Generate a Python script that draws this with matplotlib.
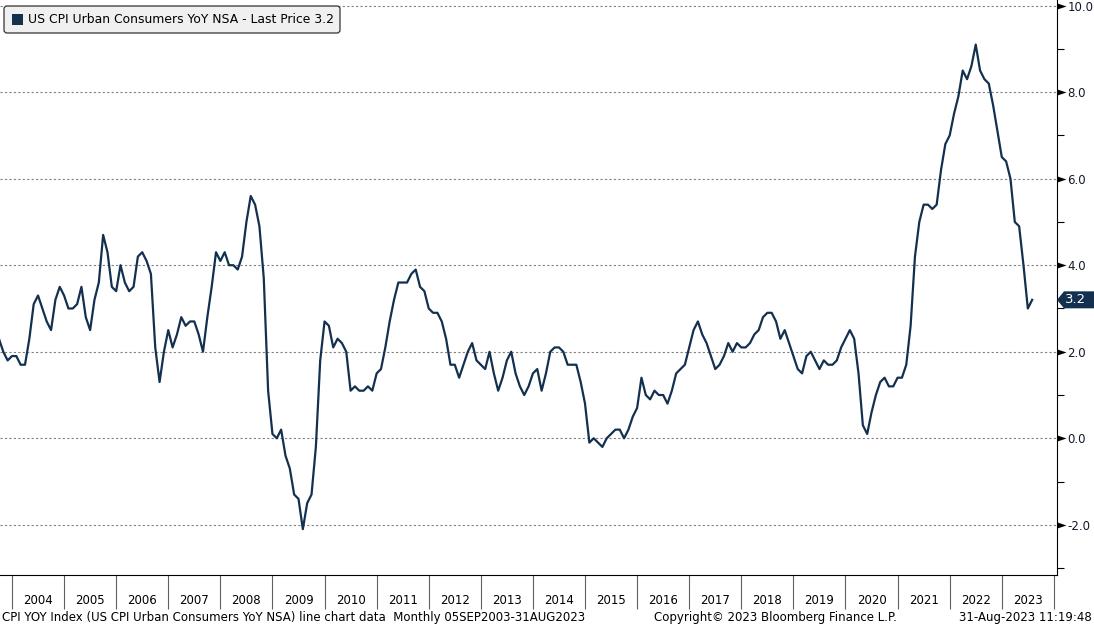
import numpy as np
import matplotlib.pyplot as plt
from matplotlib.patches import Polygon, FancyBboxPatch, Rectangle
from matplotlib.transforms import blended_transform_factory

# US CPI Urban Consumers YoY NSA, monthly, Sep 2003 - Jul 2023
start_year, start_month = 2003, 9
cpi_yoy = [
    2.3, 2.0, 1.8, 1.9,                                              # 2003 Sep-Dec
    1.9, 1.7, 1.7, 2.3, 3.1, 3.3, 3.0, 2.7, 2.5, 3.2, 3.5, 3.3,      # 2004
    3.0, 3.0, 3.1, 3.5, 2.8, 2.5, 3.2, 3.6, 4.7, 4.3, 3.5, 3.4,      # 2005
    4.0, 3.6, 3.4, 3.5, 4.2, 4.3, 4.1, 3.8, 2.1, 1.3, 2.0, 2.5,      # 2006
    2.1, 2.4, 2.8, 2.6, 2.7, 2.7, 2.4, 2.0, 2.8, 3.5, 4.3, 4.1,      # 2007
    4.3, 4.0, 4.0, 3.9, 4.2, 5.0, 5.6, 5.4, 4.9, 3.7, 1.1, 0.1,      # 2008
    0.0, 0.2, -0.4, -0.7, -1.3, -1.4, -2.1, -1.5, -1.3, -0.2, 1.8, 2.7,  # 2009
    2.6, 2.1, 2.3, 2.2, 2.0, 1.1, 1.2, 1.1, 1.1, 1.2, 1.1, 1.5,      # 2010
    1.6, 2.1, 2.7, 3.2, 3.6, 3.6, 3.6, 3.8, 3.9, 3.5, 3.4, 3.0,      # 2011
    2.9, 2.9, 2.7, 2.3, 1.7, 1.7, 1.4, 1.7, 2.0, 2.2, 1.8, 1.7,      # 2012
    1.6, 2.0, 1.5, 1.1, 1.4, 1.8, 2.0, 1.5, 1.2, 1.0, 1.2, 1.5,      # 2013
    1.6, 1.1, 1.5, 2.0, 2.1, 2.1, 2.0, 1.7, 1.7, 1.7, 1.3, 0.8,      # 2014
    -0.1, 0.0, -0.1, -0.2, 0.0, 0.1, 0.2, 0.2, 0.0, 0.2, 0.5, 0.7,   # 2015
    1.4, 1.0, 0.9, 1.1, 1.0, 1.0, 0.8, 1.1, 1.5, 1.6, 1.7, 2.1,      # 2016
    2.5, 2.7, 2.4, 2.2, 1.9, 1.6, 1.7, 1.9, 2.2, 2.0, 2.2, 2.1,      # 2017
    2.1, 2.2, 2.4, 2.5, 2.8, 2.9, 2.9, 2.7, 2.3, 2.5, 2.2, 1.9,      # 2018
    1.6, 1.5, 1.9, 2.0, 1.8, 1.6, 1.8, 1.7, 1.7, 1.8, 2.1, 2.3,      # 2019
    2.5, 2.3, 1.5, 0.3, 0.1, 0.6, 1.0, 1.3, 1.4, 1.2, 1.2, 1.4,      # 2020
    1.4, 1.7, 2.6, 4.2, 5.0, 5.4, 5.4, 5.3, 5.4, 6.2, 6.8, 7.0,      # 2021
    7.5, 7.9, 8.5, 8.3, 8.6, 9.1, 8.5, 8.3, 8.2, 7.7, 7.1, 6.5,      # 2022
    6.4, 6.0, 5.0, 4.9, 4.0, 3.0, 3.2,                              # 2023 Jan-Jul
]
years = list(range(2004, 2024))
y_ticks = [-2, 0, 2, 4, 6, 8, 10]
legend_text = "US CPI Urban Consumers YoY NSA - Last Price 3.2"
footer_left = "CPI YOY Index (US CPI Urban Consumers YoY NSA) line chart data  Monthly 05SEP2003-31AUG2023"
footer_mid = "Copyright\u00a9 2023 Bloomberg Finance L.P."
footer_right = "31-Aug-2023 11:19:48"

# month-end positions in fractional years
t = np.array([start_year + (start_month + i) / 12 for i in range(len(cpi_yoy))])

navy = '#13304f'
W, H = 1094, 627
plt.rcParams['font.family'] = 'DejaVu Sans'
fig = plt.figure(figsize=(W / 100, H / 100), dpi=100)
ax = fig.add_axes([0, 1 - 575 / H, 1057 / W, 575 / H])

ax.plot(t, cpi_yoy, color=navy, lw=1.6, zorder=3)

ax.set_xlim(2003.77, 2024.06)
ax.set_ylim(-3.16, 10.13)

# y axis on the right
ax.yaxis.tick_right()
ax.set_yticks(y_ticks)
ax.set_yticklabels(['%.1f' % v for v in y_ticks], fontsize=8.5, color='#101828')
ax.set_yticks(np.arange(-3, 11, 2), minor=True)
ax.tick_params(axis='y', which='major', length=0, pad=7.5)
ax.tick_params(axis='y', which='minor', length=5, width=0.8, color='black')
ax.grid(axis='y', which='major', color='#808080', linestyle=(0, (2, 2)), lw=0.8)
trans_y = blended_transform_factory(ax.transAxes, ax.transData)
ax.plot([1.0] * len(y_ticks), y_ticks, marker=[(0, -1), (3, 0), (0, 1)], ls='none', ms=13,
        color='black', transform=trans_y, clip_on=False, markeredgewidth=0)

# x axis: year labels between separators
ax.set_xticks([y + 0.5 for y in years])
ax.set_xticklabels([str(y) for y in years], fontsize=8.5)
ax.set_xticks(years + [2024], minor=True)
ax.tick_params(axis='x', which='major', length=0, pad=14)
ax.tick_params(axis='x', which='minor', length=24.5, width=0.8, color='#606060', direction='out')

for s in ['top', 'left']:
    ax.spines[s].set_visible(False)
ax.spines['right'].set_color('black')
ax.spines['bottom'].set_color('black')

# last price tag
fig.canvas.draw()
yp = ax.transData.transform((0, cpi_yoy[-1]))[1]
x0 = 1057
hh = 8.5
tag = Polygon([(x0, yp), (x0 + 7, yp + hh), (W, yp + hh), (W, yp - hh), (x0 + 7, yp - hh)],
              closed=True, transform=None, facecolor=navy, edgecolor='none', zorder=5)
fig.patches.append(tag)
fig.text((x0 + 8) / W, yp / H, '%.1f' % cpi_yoy[-1], color='white', fontsize=9.5,
         ha='left', va='center', zorder=6)

# legend box
box = FancyBboxPatch((4, H - 33), 336, 27, boxstyle='round,pad=0,rounding_size=3',
                     transform=None, facecolor='#f0f0f0', edgecolor='#333333', lw=0.9)
fig.patches.append(box)
fig.patches.append(Rectangle((12, H - 25), 11, 11, transform=None, facecolor=navy, edgecolor='none'))
fig.text(28 / W, 1 - 19.5 / H, legend_text, fontsize=8.9, ha='left', va='center')

# footer
fig.text(2 / W, 1 - 618 / H, footer_left, fontsize=8.5, ha='left', va='center')
fig.text(775 / W, 1 - 618 / H, footer_mid, fontsize=8.5, ha='center', va='center')
fig.text(1092 / W, 1 - 618 / H, footer_right, fontsize=8.5, ha='right', va='center')

fig.savefig('out.png', dpi=100)
